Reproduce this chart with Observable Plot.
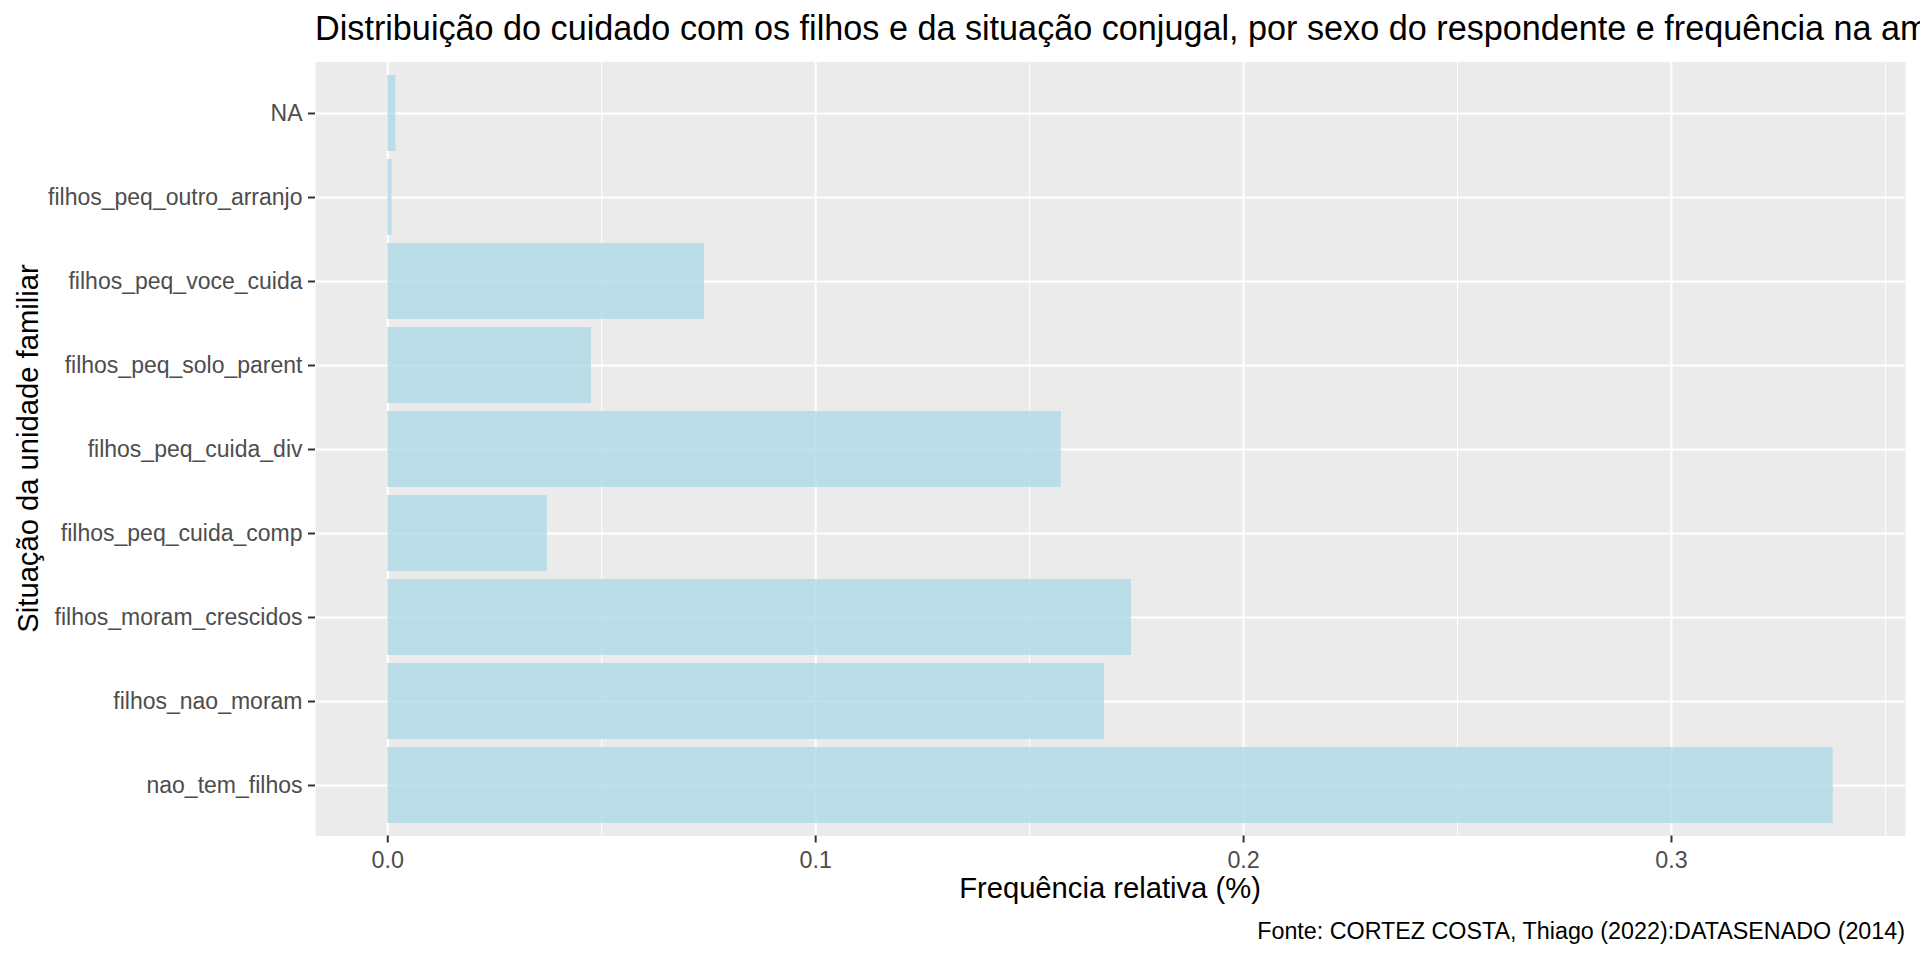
<!DOCTYPE html>
<html>
<head>
<meta charset="utf-8">
<script src="https://cdn.jsdelivr.net/npm/d3@7"></script>
<script src="https://cdn.jsdelivr.net/npm/@observablehq/plot@0.6"></script>
<style>
  html, body { margin: 0; padding: 0; background: white; width: 1920px; height: 960px; overflow: hidden; }
  body { font-family: "Liberation Sans", Arial, sans-serif; }
  #title { position: relative; height: 50px; width: 1920px; overflow: hidden; }
  #title span { position: absolute; left: 315px; top: 10.5px; font-size: 34.2px; line-height: 1; white-space: nowrap; color: #000; }
  #chart { height: 860px; }
  #caption { position: relative; height: 50px; width: 1920px; }
  #caption span { position: absolute; right: 15px; top: 10.3px; font-size: 23.3px; line-height: 1; white-space: nowrap; color: #000; }
</style>
</head>
<body>
<div id="title"><span>Distribuição do cuidado com os filhos e da situação conjugal, por sexo do respondente e frequência na amostra</span></div>
<div id="chart"></div>
<div id="caption"><span>Fonte: CORTEZ COSTA, Thiago (2022):DATASENADO (2014)</span></div>
<script>
// Categories, top to bottom as drawn
const categories = [
  "NA",
  "filhos_peq_outro_arranjo",
  "filhos_peq_voce_cuida",
  "filhos_peq_solo_parent",
  "filhos_peq_cuida_div",
  "filhos_peq_cuida_comp",
  "filhos_moram_crescidos",
  "filhos_nao_moram",
  "nao_tem_filhos"
];
// Relative frequency per category
const values = [0.0019, 0.0010, 0.0740, 0.0476, 0.1574, 0.0373, 0.1738, 0.1675, 0.3378];
const xTicks = [0, 0.1, 0.2, 0.3];
const xMinorTicks = [0.05, 0.15, 0.25, 0.35];
const xLabel = "Frequência relativa (%)";
const yLabel = "Situação da unidade familiar";

const data = categories.map((c, i) => ({category: c, value: values[i]}));
const xmax = d3.max(values);

const W = 1920, H = 860;
const mL = 315, mR = 15, mT = 11.5, mB = 74.5;

const chart = Plot.plot({
  width: W,
  height: H,
  marginTop: mT,
  marginBottom: mB,
  marginLeft: mL,
  marginRight: mR,
  style: {fontFamily: "'Liberation Sans', Arial, sans-serif", background: "white", overflow: "visible"},
  x: {domain: [-0.05 * xmax, 1.05 * xmax]},
  y: {domain: categories, paddingInner: 0.1, paddingOuter: 0.15, align: 0.5},
  marks: [
    Plot.frame({fill: "#EBEBEB", stroke: "none"}),
    Plot.gridX(xMinorTicks, {stroke: "white", strokeOpacity: 1, strokeWidth: 1}),
    Plot.gridX(xTicks, {stroke: "white", strokeOpacity: 1, strokeWidth: 2}),
    Plot.gridY({stroke: "white", strokeOpacity: 1, strokeWidth: 2}),
    Plot.barX(data, {x: "value", y: "category", fill: "#ADD8E6", fillOpacity: 0.78}),
    Plot.axisX(xTicks, {tickSize: 7, tickPadding: 8.8, tickFormat: d3.format(".1f"), fontSize: 23.3, stroke: "#333333", fill: "#4D4D4D", strokeWidth: 2, label: null}),
    Plot.axisY({tickSize: 7, tickPadding: 6, fontSize: 23, stroke: "#333333", fill: "#4D4D4D", strokeWidth: 2, label: null})
  ]
});

const svg = d3.select(chart);
svg.append("text")
  .attr("x", (mL + (W - mR)) / 2)
  .attr("y", 847.5)
  .attr("text-anchor", "middle")
  .attr("font-size", 29.2)
  .attr("fill", "#000")
  .text(xLabel);
svg.append("text")
  .attr("transform", `translate(37.7, ${(mT + (H - mB)) / 2}) rotate(-90)`)
  .attr("text-anchor", "middle")
  .attr("font-size", 29.2)
  .attr("fill", "#000")
  .text(yLabel);

document.getElementById("chart").appendChild(chart);
</script>
</body>
</html>
